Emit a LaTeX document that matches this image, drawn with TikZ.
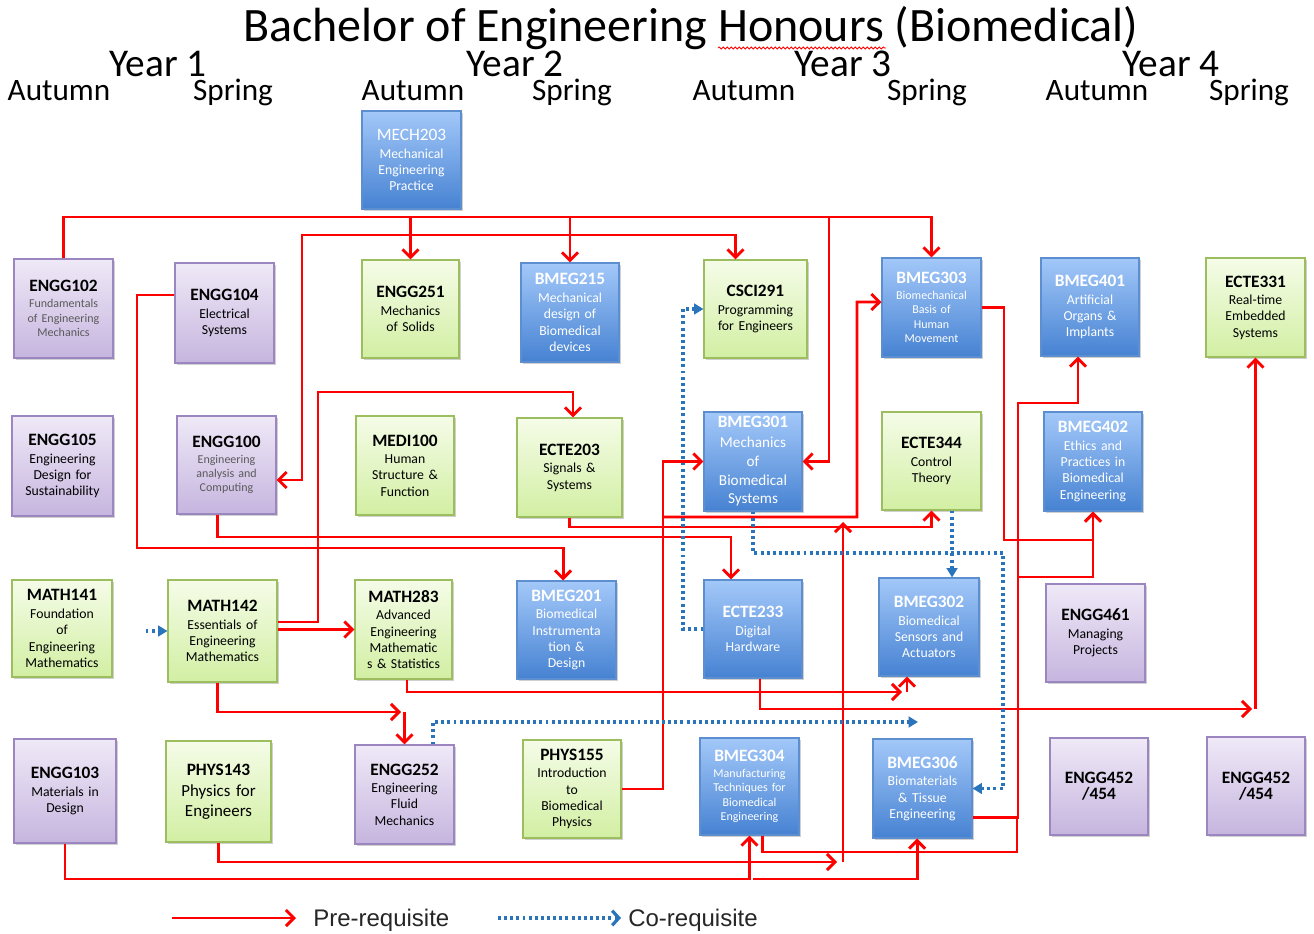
\documentclass[tikz,border=0pt]{standalone}
\usepackage{fontspec}
\setmainfont{Carlito}
\newfontfamily\arialf{Liberation Sans}
\usetikzlibrary{arrows.meta,shadows,decorations.pathmorphing}
\definecolor{pTop}{HTML}{EFE9F7}\definecolor{pBot}{HTML}{C6B5DF}\definecolor{pBd}{HTML}{9B86BF}
\definecolor{gTop}{HTML}{F5FCE8}\definecolor{gBot}{HTML}{D2EFA3}\definecolor{gBd}{HTML}{9CBE5E}
\definecolor{bTop}{HTML}{A3C8F9}\definecolor{bBot}{HTML}{4682D2}\definecolor{bBd}{HTML}{5C8ED0}
\definecolor{coblue}{HTML}{2A74BC}
\definecolor{prered}{HTML}{FF0000}
\definecolor{subgray}{HTML}{5A5A5A}
\newcommand\cd[1]{{\fontsize{13}{15}\selectfont\bfseries #1}\\[1pt]}
\newcommand\mkbox[7]{%
  \pgfmathsetmacro\mkX{(#3+#5)/2}%
  \pgfmathsetmacro\mkY{(#4+#6)/2}%
  \pgfmathsetmacro\mkW{(#5-#3)*0.75}%
  \pgfmathsetmacro\mkH{(#6-#4)*0.75}%
  \pgfmathsetmacro\mkT{(#5-#3)*0.75-3}%
  \node[#2, minimum width=\mkW pt, minimum height=\mkH pt, text width=\mkT pt] (#1) at (\mkX,\mkY) {#7};}
\tikzset{
  fnorm/.style={font=\fontsize{10.3}{12.2}\selectfont},
  fsm/.style={font=\fontsize{9}{10.8}\selectfont},
  fbig/.style={font=\fontsize{11.4}{14}\selectfont},
  fbigger/.style={font=\fontsize{12.7}{15}\selectfont},
  box/.style={draw, line width=0.8pt, inner sep=0pt, align=center, fnorm,
    drop shadow={shadow xshift=1.5pt, shadow yshift=-1.5pt, opacity=.3, fill=black!60}},
  pbox/.style={box, draw=pBd, top color=pTop, bottom color=pBot, text=black},
  gbox/.style={box, draw=gBd, top color=gTop, bottom color=gBot, text=black},
  bbox/.style={box, draw=bBd, top color=bTop, bottom color=bBot, text=white},
  pre/.style={draw=prered, line width=2.2pt, -{Straight Barb[length=6pt,width=12pt]}},
  prebi/.style={draw=prered, line width=2.2pt, {Straight Barb[length=6pt,width=12pt]}-{Straight Barb[length=6pt,width=12pt]}},
  preline/.style={draw=prered, line width=2.2pt},
  co/.style={draw=coblue, line width=2.4pt, dash pattern=on 2.2pt off 2.4pt, -{Triangle[length=7pt,width=8pt]}},
  coleg/.style={draw=coblue, line width=2.4pt, dash pattern=on 2.2pt off 2.4pt, -{Straight Barb[length=5pt,width=11pt]}},
  hdr/.style={inner sep=0pt, anchor=base, text=black},
}
\begin{document}
\begin{tikzpicture}[x=0.75pt,y=-0.75pt]
\useasboundingbox (0,0) rectangle (1314,934);
\fill[white] (0,0) rectangle (1314,934);

% headers
\node[hdr, font=\fontsize{36}{40}\selectfont] (title) at (691,42) {Bachelor of Engineering Honours (Biomedical)};
\draw[red, line width=0.6pt, decorate, decoration={snake, amplitude=0.8pt, segment length=3pt}] (718,48) -- (886,48);
\foreach \nm/\xx/\tt in {y1/158/Year 1, y2/515/Year 2, y3/843/Year 3, y4/1171/Year 4}
  \node[hdr, font=\fontsize{29.5}{32}\selectfont] (\nm) at (\xx,77) {\tt};
\foreach \nm/\xx/\tt in {s1/59/Autumn, s2/233/Spring, s3/413/Autumn, s4/572/Spring, s5/744/Autumn, s6/927/Spring, s7/1097/Autumn, s8/1249/Spring}
  \node[hdr, font=\fontsize{23.4}{26}\selectfont] (\nm) at (\xx,101) {\tt};

% row 0
\mkbox{mech203}{bbox}{362}{111}{461}{209}{{\fontsize{13}{15}\selectfont MECH203}\\[1pt]Mechanical\\Engineering\\Practice}
% row 1
\mkbox{engg102}{pbox,fsm}{14}{259}{113}{358}{\cd{ENGG102}{\color{subgray}Fundamentals\\of Engineering\\Mechanics}}
\mkbox{engg104}{pbox}{175}{263}{274}{363}{\cd{ENGG104}Electrical\\Systems}
\mkbox{engg251}{gbox}{362}{260}{459}{358}{\cd{ENGG251}Mechanics\\of Solids}
\mkbox{bmeg215}{bbox}{521}{263}{619}{362}{\cd{BMEG215}Mechanical\\design of\\Biomedical\\devices}
\mkbox{csci291}{gbox}{704}{260}{807}{358}{\cd{CSCI291}Programming\\for Engineers}
\mkbox{bmeg303}{bbox,fsm}{882}{258}{981}{357}{\cd{BMEG303}Biomechanical\\Basis of\\Human\\Movement}
\mkbox{bmeg401}{bbox}{1041}{258}{1139}{356}{\cd{BMEG401}Artificial\\Organs \&\\Implants}
\mkbox{ecte331}{gbox}{1206}{258}{1305}{357}{\cd{ECTE331}Real-time\\Embedded\\Systems}
% row 2
\mkbox{engg105}{pbox}{12}{416}{113}{516}{\cd{ENGG105}Engineering\\Design for\\Sustainability}
\mkbox{engg100}{pbox,fsm}{177}{416}{276}{514}{\cd{ENGG100}{\color{subgray}Engineering\\analysis and\\Computing}}
\mkbox{medi100}{gbox}{356}{416}{454}{515}{\cd{MEDI100}Human\\Structure \&\\Function}
\mkbox{ecte203}{gbox}{517}{418}{622}{517}{\cd{ECTE203}Signals \&\\Systems}
\mkbox{bmeg301}{bbox,fbig}{704}{412}{802}{511}{\cd{BMEG301}Mechanics\\of\\Biomedical\\Systems}
\mkbox{ecte344}{gbox}{882}{412}{981}{510}{\cd{ECTE344}Control\\Theory}
\mkbox{bmeg402}{bbox}{1044}{412}{1142}{511}{\cd{BMEG402}Ethics and\\Practices in\\Biomedical\\Engineering}
% row 3
\mkbox{math141}{gbox}{12}{580}{112}{677}{\cd{MATH141}Foundation\\of\\Engineering\\Mathematics}
\mkbox{math142}{gbox}{168}{580}{277}{682}{\cd{MATH142}Essentials of\\Engineering\\Mathematics}
\mkbox{math283}{gbox}{355}{580}{452}{679}{\cd{MATH283}Advanced\\Engineering\\Mathematic\\s \& Statistics}
\mkbox{bmeg201}{bbox}{517}{581}{616}{679}{\cd{BMEG201}Biomedical\\Instrumenta\\tion \&\\Design}
\mkbox{ecte233}{bbox}{704}{580}{802}{678}{\cd{ECTE233}Digital\\Hardware}
\mkbox{bmeg302}{bbox}{879}{578}{979}{676}{\cd{BMEG302}Biomedical\\Sensors and\\Actuators}
\mkbox{engg461}{pbox}{1046}{584}{1145}{682}{\cd{ENGG461}Managing\\Projects}
% row 4
\mkbox{engg103}{pbox}{14}{739}{116}{843}{\cd{ENGG103}Materials in\\Design}
\mkbox{phys143}{gbox,fbigger}{166}{741}{271}{842}{\cd{PHYS143}Physics for\\Engineers}
\mkbox{engg252}{pbox}{355}{745}{454}{844}{\cd{ENGG252}Engineering\\Fluid\\Mechanics}
\mkbox{phys155}{gbox}{523}{740}{621}{838}{\cd{PHYS155}Introduction\\to\\Biomedical\\Physics}
\mkbox{bmeg304}{bbox,fsm}{700}{738}{799}{835}{\cd{BMEG304}Manufacturing\\Techniques for\\Biomedical\\Engineering}
\mkbox{bmeg306}{bbox}{873}{739}{972}{838}{\cd{BMEG306}Biomaterials\\\& Tissue\\Engineering}
\mkbox{engg452a}{pbox}{1050}{738}{1148}{835}{{\fontsize{13}{16.5}\selectfont\bfseries ENGG452\\/454}}
\mkbox{engg452b}{pbox}{1207}{737}{1305}{835}{{\fontsize{13}{16.5}\selectfont\bfseries ENGG452\\/454}}

% ---------- pre-requisites ----------
\draw[pre] (engg102.north) |- (931.5,217) -- (bmeg303.north);
\draw[pre] (410.5,217) -- (engg251.north);
\draw[pre] (570,217) -- (bmeg215.north);
\draw[pre] (829,217) |- (bmeg301.east);
\draw[prebi] ([yshift=-11.25pt]engg100.east) -| (302,235) -| ([xshift=-15pt]csci291.north);
\draw[pre] ([yshift=13.5pt]engg104.west) -| (137,548) -| ([xshift=-2.6pt]bmeg201.north);
\draw[pre] ([xshift=-7pt]engg100.south) |- (600,537) -| ([xshift=-16.5pt]ecte233.north);
\draw[pre] ([yshift=6.75pt]math142.east) -| (318,392) -| ([xshift=2.6pt]ecte203.north);
\draw[pre] (math142.east |- math283.west) -- (math283.west);
\coordinate (m142c) at (401,712);
\draw[pre] ([xshift=-4pt]math142.south) |- (m142c);
\draw[pre] (404.5,712) -- (engg252.north);
\coordinate (m283c) at (902,692);
\draw[pre] ([xshift=2.6pt]math283.south) |- (m283c);
\draw[pre] (907,692) -- ([xshift=-16.5pt]bmeg302.south);
\coordinate (e233c) at (1252,709);
\draw[pre] ([xshift=5.25pt]ecte233.south) |- (e233c);
\draw[pre] (1255.5,709) -- (ecte331.south);
\draw[pre] (ecte203.south) |- (700,527) -| (ecte344.south);
\draw[pre] (phys155.east) -| (663,461.5) -- (bmeg301.west);
\draw[pre] (663,517) -| (857,302) -- ([yshift=4.1pt]bmeg303.west);
\coordinate (p143c) at (837,862);
\coordinate (p143t) at (843,522);
\draw[pre] (phys143.south) |- (p143c);
\draw[pre] (843,862) -- (p143t);
\draw[pre] (engg103.south) |- (749.5,879) -- (bmeg304.south);
\draw[pre] (753,879) -| ([xshift=-4pt]bmeg306.south);
\draw[preline] ([xshift=9.4pt]bmeg304.south) |- (1017,852) -- (1017,817);
\draw[pre] ([yshift=-21.4pt]bmeg306.east) -| (1018,403) -| ([xshift=-9pt]bmeg401.south);
\draw[pre] (1018,577) -| (bmeg402.south);
\draw[pre] (bmeg303.east) -| (1004,540) -| (bmeg402.south);

% ---------- co-requisites ----------
\path ([xshift=24.75pt]math141.east) coordinate (c141);
\draw[co] (c141 |- math142.west) -- (math142.west);
\draw[co] (ecte233.west) -| (683,309) -- (csci291.west);
\draw[co] (bmeg301.south) |- (1003,553) |- (bmeg306.east);
\path ([xshift=15.4pt]ecte344.south) coordinate (e344s);
\draw[co] (e344s) -- (e344s |- bmeg302.north);
\coordinate (e252c) at (918,722);
\draw[co] ([xshift=21.4pt]engg252.north) |- (e252c);

% ---------- legend ----------
\coordinate (lpa) at (172,918); \coordinate (lpb) at (296,918);
\draw[pre] (lpa) -- (lpb);
\node[inner sep=0pt, anchor=base west, font=\arialf\fontsize{18}{20}\selectfont, text=black!85] (lpre) at (313,926) {Pre-requisite};
\coordinate (lca) at (498,918); \coordinate (lcb) at (621,918);
\draw[coleg] (lca) -- (lcb);
\node[inner sep=0pt, anchor=base west, font=\arialf\fontsize{18}{20}\selectfont, text=black!85] (lco) at (628,926) {Co-requisite};
\end{tikzpicture}
\end{document}
